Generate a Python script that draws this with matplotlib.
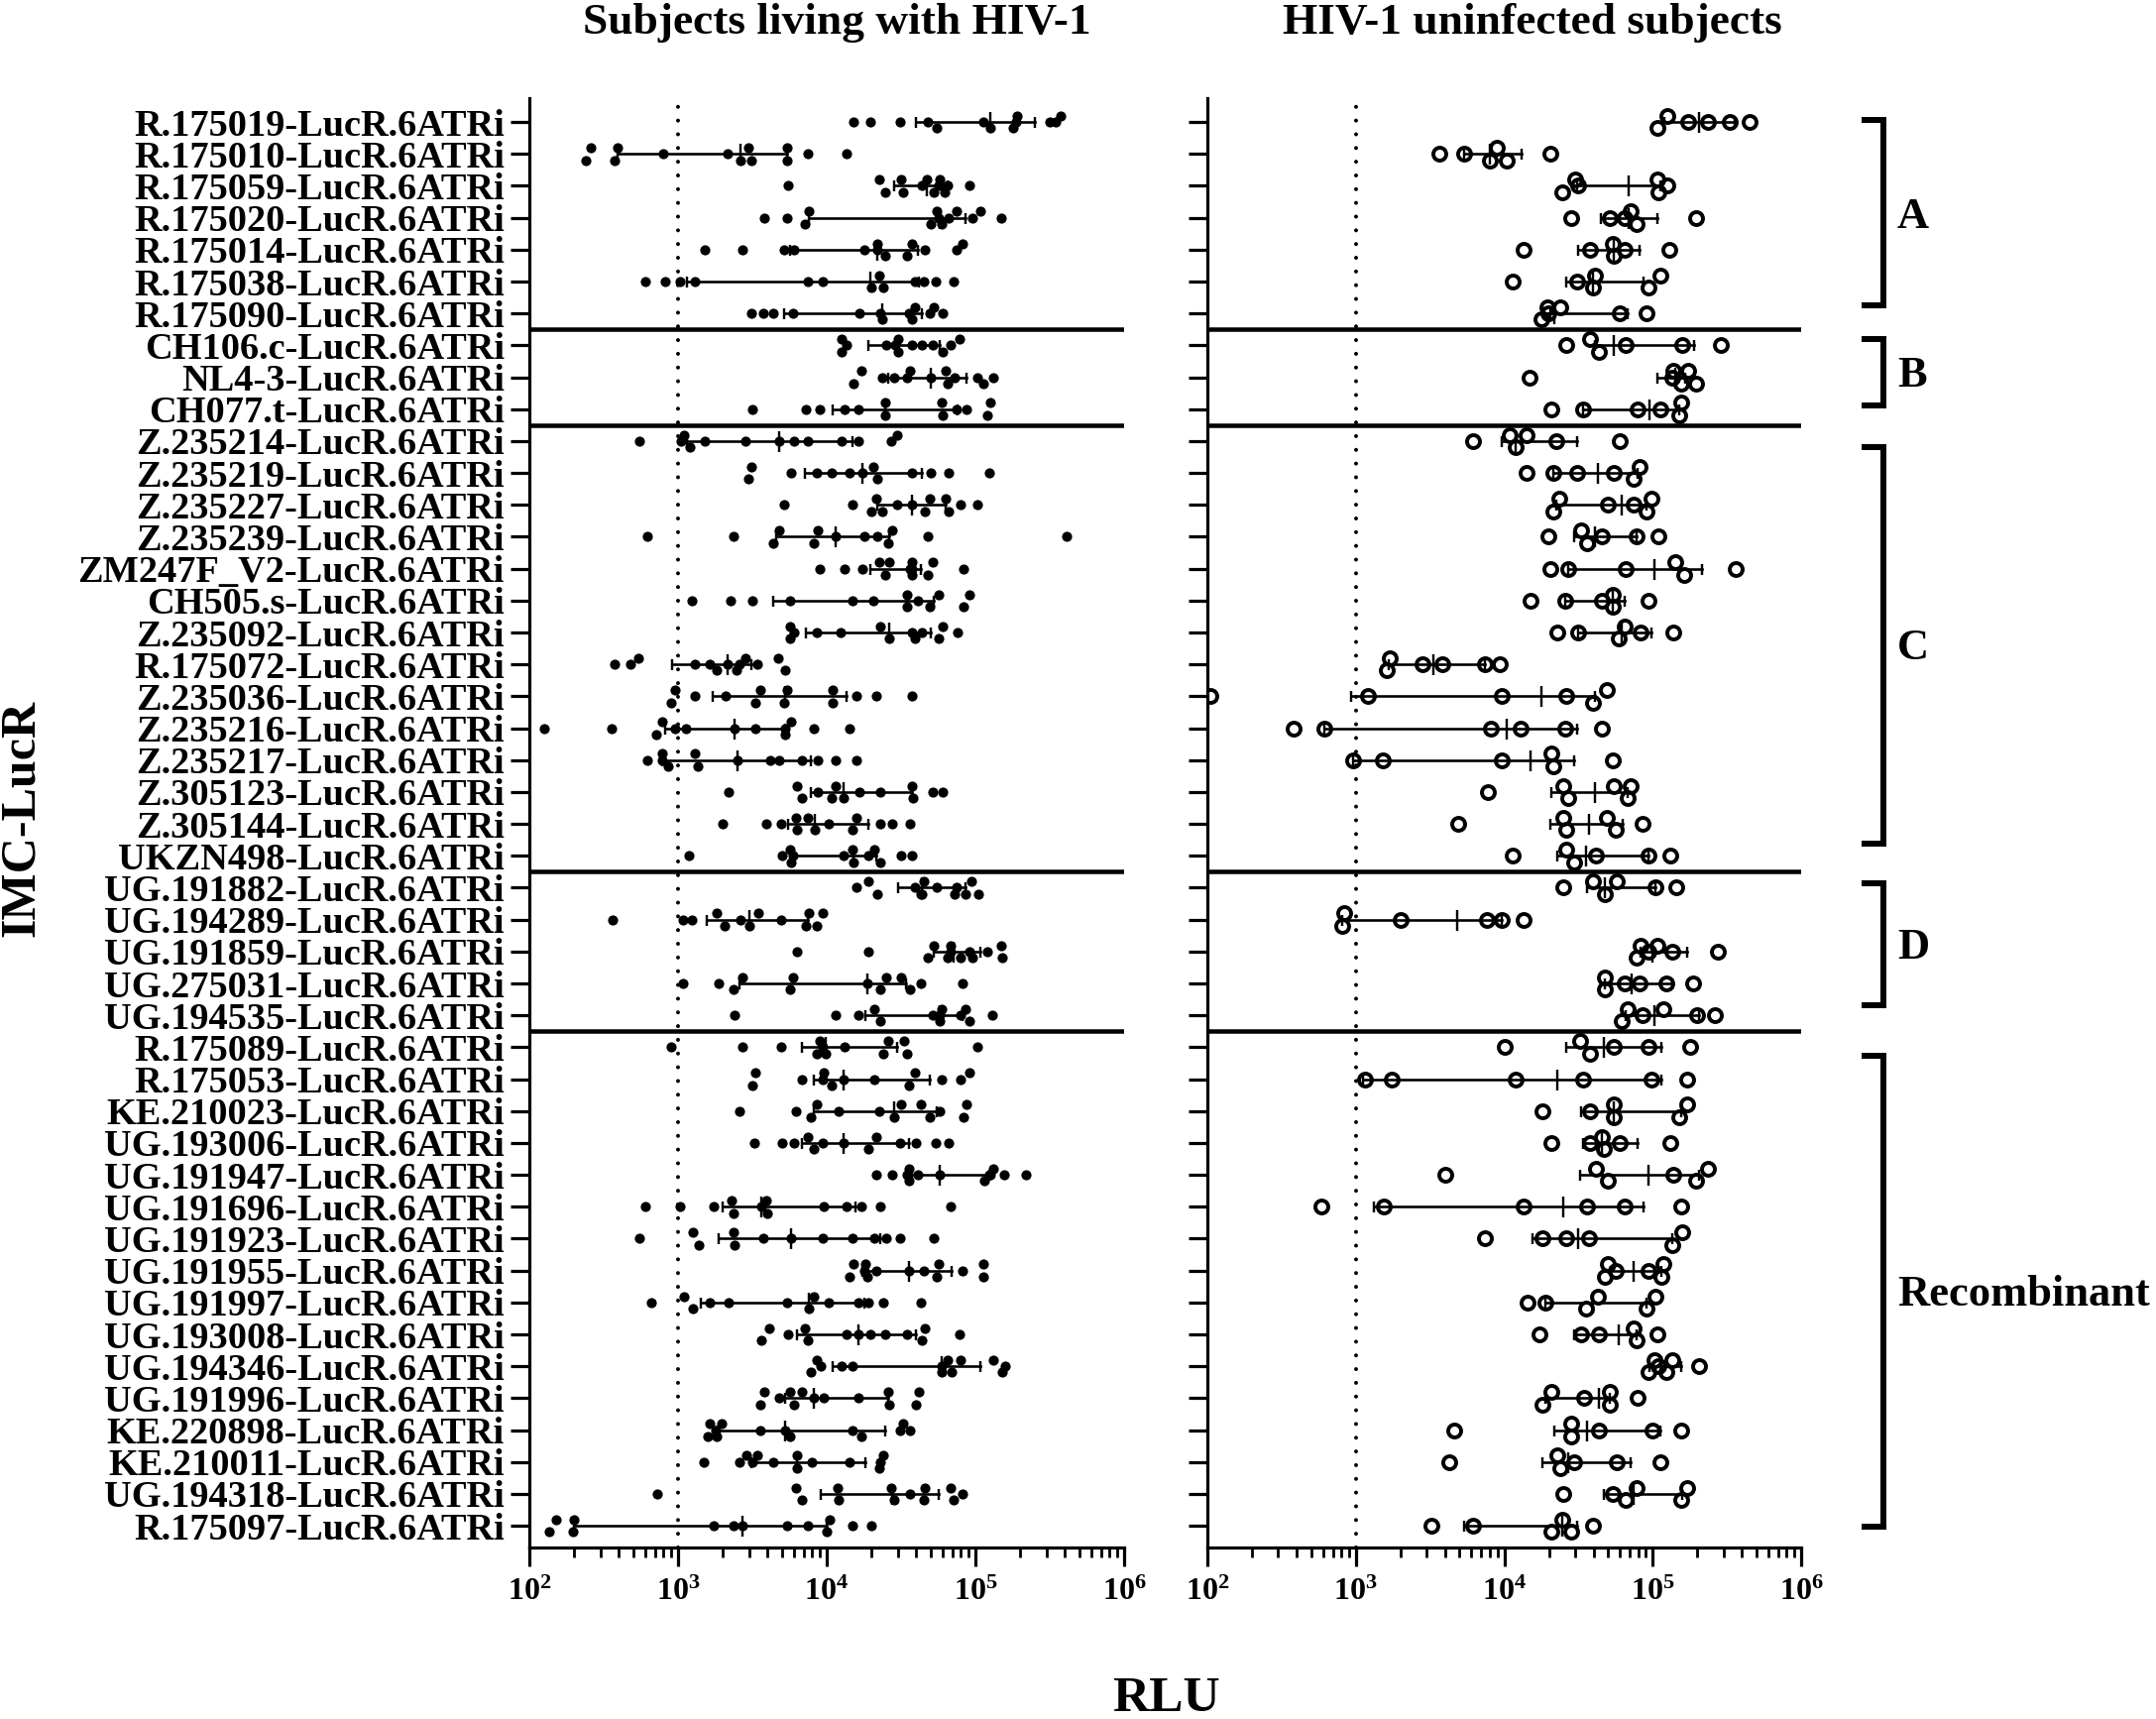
import matplotlib
matplotlib.use("Agg")
import matplotlib.pyplot as plt
from matplotlib.lines import Line2D
from matplotlib.ticker import LogLocator, NullFormatter, FixedFormatter, FixedLocator

plt.rcParams['font.family'] = ['Liberation Serif', 'DejaVu Serif']
plt.rcParams['font.weight'] = 'bold'
plt.rcParams['mathtext.fontset'] = 'custom'
plt.rcParams['mathtext.rm'] = 'Liberation Serif:bold'
plt.rcParams['mathtext.bf'] = 'Liberation Serif:bold'
plt.rcParams['mathtext.default'] = 'bf'

VIRUSES = ["R.175019", "R.175010", "R.175059", "R.175020", "R.175014", "R.175038", "R.175090",
           "CH106.c", "NL4-3", "CH077.t",
           "Z.235214", "Z.235219", "Z.235227", "Z.235239", "ZM247F_V2", "CH505.s", "Z.235092",
           "R.175072", "Z.235036", "Z.235216", "Z.235217", "Z.305123", "Z.305144", "UKZN498",
           "UG.191882", "UG.194289", "UG.191859", "UG.275031", "UG.194535",
           "R.175089", "R.175053", "KE.210023", "UG.193006", "UG.191947", "UG.191696", "UG.191923",
           "UG.191955", "UG.191997", "UG.193008", "UG.194346", "UG.191996", "KE.220898", "KE.210011",
           "UG.194318", "R.175097"]
SUFFIX = "-LucR.6ATRi"
GROUP_BOUNDARIES = [6.5, 9.5, 23.5, 28.5]
LOD = 1000
XTICK_EXPONENTS = [2, 3, 4, 5, 6]

# log10(RLU) per virus, subjects living with HIV-1
HIV_LOG10 = [
 [4.18,4.29,4.49,4.68,4.74,5.05,5.10,5.25,5.27,5.28,5.50,5.54,5.57],
 [2.38,2.41,2.57,2.59,2.90,3.33,3.42,3.47,3.49,3.73,3.73,3.87,4.13],
 [3.74,4.35,4.39,4.50,4.51,4.64,4.67,4.72,4.75,4.76,4.79,4.81,4.96],
 [3.58,3.73,3.85,3.88,4.70,4.74,4.75,4.77,4.82,4.87,4.98,5.03,5.17],
 [3.18,3.43,3.71,3.78,4.25,4.34,4.34,4.39,4.54,4.57,4.66,4.87,4.91],
 [2.78,2.91,3.01,3.11,3.87,3.97,4.30,4.35,4.38,4.59,4.65,4.73,4.85],
 [3.49,3.57,3.64,3.77,4.22,4.36,4.37,4.55,4.57,4.59,4.69,4.72,4.78],
 [4.10,4.13,4.10,4.40,4.46,4.48,4.48,4.57,4.64,4.71,4.78,4.83,4.89],
 [4.18,4.23,4.37,4.45,4.54,4.56,4.70,4.80,4.81,4.86,5.01,5.05,5.12],
 [3.50,3.86,3.95,4.12,4.21,4.39,4.39,4.77,4.78,4.87,4.94,5.10,5.08],
 [2.74,3.02,3.04,3.08,3.18,3.45,3.68,3.78,3.87,4.10,4.21,4.43,4.47],
 [3.49,3.47,3.76,3.93,4.03,4.15,4.24,4.31,4.34,4.57,4.70,4.82,5.09],
 [3.71,4.17,4.33,4.30,4.37,4.47,4.57,4.66,4.69,4.80,4.82,4.90,5.01],
 [2.79,3.37,3.68,3.64,3.94,3.91,4.06,4.25,4.34,4.44,4.41,4.68,5.61],
 [3.95,4.12,4.24,4.35,4.39,4.42,4.56,4.57,4.57,4.68,4.71,4.92,4.57],
 [3.09,3.35,3.50,3.75,4.17,4.31,4.54,4.54,4.61,4.75,4.69,4.96,4.92],
 [3.75,3.78,3.75,3.93,4.09,4.36,4.42,4.57,4.64,4.59,4.75,4.78,4.88],
 [2.57,2.68,2.73,3.11,3.21,3.26,3.33,3.39,3.41,3.45,3.53,3.67,3.72],
 [2.98,2.95,3.11,3.32,3.55,3.52,3.73,3.71,4.04,4.04,4.20,4.33,4.57],
 [2.10,2.55,2.89,2.85,2.98,3.05,3.38,3.52,3.72,3.72,3.76,3.91,4.15],
 [2.79,2.89,2.89,2.93,3.11,3.13,3.40,3.62,3.68,3.83,3.94,4.06,4.20],
 [3.34,3.80,3.83,3.94,4.06,4.03,4.11,4.22,4.36,4.57,4.58,4.71,4.78],
 [3.30,3.59,3.69,3.79,3.80,3.87,3.92,4.01,4.20,4.17,4.36,4.44,4.56],
 [3.07,3.70,3.75,3.77,3.76,4.11,4.17,4.18,4.28,4.32,4.36,4.50,4.57],
 [4.20,4.28,4.34,4.59,4.65,4.64,4.74,4.87,4.86,4.93,4.97,5.02,4.63],
 [2.56,3.03,3.09,3.26,3.31,3.42,3.48,3.54,3.69,3.88,3.86,3.97,3.93],
 [3.80,4.28,4.72,4.68,4.83,4.83,4.81,4.90,4.96,4.98,5.08,5.17,5.18],
 [3.03,3.27,3.43,3.37,3.77,3.75,4.27,4.40,4.36,4.50,4.56,4.63,4.91],
 [3.38,4.06,4.21,4.32,4.36,4.71,4.77,4.76,4.76,4.90,4.93,4.96,5.11],
 [2.95,3.43,3.69,3.93,3.95,3.97,3.99,4.12,4.38,4.41,4.52,4.54,5.01],
 [3.52,3.50,3.83,3.98,3.97,4.03,4.11,4.32,4.59,4.55,4.77,4.90,4.96],
 [3.41,3.79,3.93,3.89,4.08,4.35,4.50,4.45,4.63,4.69,4.76,4.94,4.92],
 [3.51,3.70,3.78,3.87,3.91,3.97,4.11,4.33,4.28,4.49,4.60,4.73,4.82],
 [4.33,4.44,4.54,4.55,4.55,4.61,4.76,5.06,5.09,5.10,5.12,5.19,5.34],
 [2.78,3.01,3.24,3.36,3.37,3.56,3.59,3.60,3.98,4.13,4.23,4.36,4.83],
 [2.74,3.10,3.14,3.37,3.38,3.57,3.76,3.97,4.17,4.32,4.40,4.49,4.72],
 [4.18,4.15,4.26,4.25,4.27,4.33,4.55,4.65,4.75,4.74,4.91,5.05,5.05],
 [2.82,3.04,3.10,3.21,3.34,3.73,3.91,3.88,4.01,4.21,4.28,4.38,4.63],
 [3.61,3.56,3.74,3.85,3.87,4.13,4.21,4.29,4.39,4.54,4.66,4.64,4.89],
 [3.93,3.96,3.89,4.10,4.17,4.77,4.81,4.77,4.84,4.90,5.12,5.20,5.18],
 [3.58,3.55,3.68,3.75,3.78,3.83,3.91,3.98,4.21,4.41,4.42,4.62,4.60],
 [3.21,3.20,3.29,3.25,3.26,3.55,3.72,3.75,4.17,4.23,4.51,4.49,4.56],
 [3.17,3.41,3.46,3.50,3.53,3.64,3.80,3.80,3.90,4.15,4.38,4.36,4.35],
 [2.86,3.79,3.83,4.07,4.08,4.43,4.45,4.56,4.66,4.65,4.83,4.85,4.91],
 [2.13,2.18,2.30,2.29,3.24,3.37,3.43,3.73,3.87,4.02,4.00,4.17,4.30],
]
# swarm side of each point: m centre, u above, d below
HIV_LANES = [
 "mmmmdmddmummu", "dudummdududmm", "mududmudmudmm", "mmdudumdmumum", "mmmmmumddummu",
 "mmmmmmdudmmmm", "mmmmmmdmdumum", "umdmmudmmmdmu", "dummmumudmmdm", "mmmmmududmmud",
 "mmudmmmmmmmmu", "udmmmmmudmmmm", "mmuddmmduudmm", "mmududmmmudmm", "mmmudumuddumm",
 "mmmmmmudmudud", "umdmmudmmddum", "mmummdmdmumud", "udmmudududmmm", "mmudmmmmdmumm",
 "mumdudmmmmmmm", "mudmuddmmudmm", "mmmududmudmmm", "mmumdmudmudmm", "mudmudmmddudd",
 "mmmudmdumudud", "mmudumddmdmud", "mmududmududmm", "mmmudmudmmudm", "mmmdumdmduudm",
 "udmumdmmudmmu", "mmudmmududmud", "mmmudmmudmmmm", "mmmudmmdmmumm", "mmmudmudmmmmm",
 "mududmmmmmmmm", "udumdmmmudmud", "mudmmmudmmmmm", "udmudmmmmmudm", "umdmmmudduumd",
 "udmudummmudud", "udumdmmdmdumm", "mmumumudmmumd", "mudududmududm", "duudmmmmmudmm",
]
HIV_LOW = [4.60,2.59,4.45,3.88,3.75,3.06,3.71,4.28,4.41,4.04,3.06,3.85,4.34,3.66,4.29,3.64,3.86,2.96,3.23,2.91,2.89,
           3.89,3.74,3.76,4.48,3.19,4.72,3.41,4.26,3.83,3.91,3.91,3.83,4.57,3.30,3.27,4.24,3.15,3.80,4.04,3.72,3.26,3.49,3.96,2.30]
HIV_MEDIAN = [5.10,3.42,4.67,4.76,4.34,4.29,4.37,4.48,4.70,4.39,3.68,4.24,4.57,4.06,4.57,4.54,4.42,3.33,3.72,3.38,3.40,
              4.11,3.92,4.18,4.64,3.48,4.85,4.27,4.76,3.99,4.11,4.45,4.11,4.76,3.56,3.76,4.55,3.88,4.21,4.77,3.91,3.72,3.80,4.44,3.43]
HIV_HIGH = [5.40,3.73,4.81,4.93,4.61,4.62,4.64,4.76,4.94,4.88,4.17,4.64,4.80,4.42,4.63,4.72,4.70,3.49,4.13,3.72,3.89,
            4.57,4.28,4.33,4.93,3.87,5.03,4.53,4.91,4.47,4.69,4.74,4.55,5.09,4.19,4.36,4.84,4.25,4.60,5.03,4.41,4.39,4.26,4.75,4.00]

# log10(RLU) per virus, HIV-1 uninfected subjects
UNINF_LOG10 = [
 [5.03,5.10,5.24,5.37,5.52,5.65],[3.56,3.73,3.90,3.95,4.02,4.31],[4.39,4.48,4.50,5.03,5.04,5.10],
 [4.45,4.71,4.81,4.85,4.89,5.29],[4.13,4.58,4.73,4.74,4.81,5.11],[4.06,4.49,4.61,4.60,4.97,5.05],
 [4.25,4.29,4.30,4.38,4.78,4.96],[4.42,4.58,4.64,4.82,5.20,5.46],[4.17,5.14,5.13,5.19,5.24,5.29],
 [4.32,4.53,4.90,5.05,5.19,5.18],[3.79,4.04,4.08,4.15,4.35,4.78],[4.15,4.33,4.49,4.74,4.91,4.87],
 [4.37,4.33,4.70,4.87,4.99,4.96],[4.30,4.52,4.56,4.66,4.89,5.04],[4.31,4.43,4.82,5.15,5.21,5.56],
 [4.18,4.41,4.66,4.73,4.73,4.97],[4.36,4.50,4.77,4.81,4.92,5.14],[3.23,3.21,3.45,3.58,3.87,3.97],
 [2.02,3.08,3.98,4.42,4.60,4.69],[2.58,2.79,3.91,4.11,4.41,4.66],[2.98,3.18,3.98,4.32,4.33,4.73],
 [3.89,4.40,4.43,4.74,4.85,4.83],[3.69,4.40,4.42,4.69,4.75,4.93],[4.06,4.42,4.47,4.62,4.97,5.12],
 [4.40,4.60,4.68,4.76,5.02,5.16],[2.92,2.91,3.30,3.88,3.98,4.13],[4.92,4.89,4.97,5.03,5.13,5.44],
 [4.68,4.68,4.81,4.91,5.09,5.27],[4.79,4.83,4.93,5.07,5.30,5.42],[4.00,4.51,4.58,4.74,4.97,5.25],
 [3.06,3.24,4.08,4.53,4.99,5.23],[4.26,4.58,4.74,4.74,5.23,5.18],[4.32,4.58,4.66,4.67,4.78,5.12],
 [3.60,4.62,4.70,5.14,5.29,5.37],[2.77,3.19,4.13,4.56,4.81,5.19],[3.87,4.26,4.42,4.57,5.13,5.20],
 [4.70,4.68,4.75,4.97,5.07,5.06],[4.16,4.28,4.55,4.63,4.96,5.02],[4.24,4.52,4.64,4.87,4.89,5.03],
 [4.97,5.01,5.04,5.09,5.13,5.31],[4.26,4.32,4.54,4.71,4.71,4.90],[3.66,4.45,4.45,4.64,5.00,5.19],
 [3.63,4.36,4.38,4.47,4.76,5.05],[4.40,4.73,4.82,4.89,5.23,5.19],[3.51,3.79,4.32,4.39,4.45,4.60],
]
UNINF_LANES = [
 "dummmm", "mmdudm", "dumudm", "mmmudm", "mmudmm", "mmuddu", "dumumm", "mudmmm", "mumdud",
 "mmmmud", "mudumm", "mmmmud", "udmmud", "mudmmm", "mmmudm",
 "mmmudm", "mmdumm", "udmmmm", "mmmmdu", "mmmmmm", "mmmudm", "muduud", "mududm", "mudmmm",
 "mudumm", "udmmmm", "udmumm", "udmmmm", "dumumm", "mudmmm",
 "mmmmmm", "mmudud", "mmudmm", "mudmdu", "mmmmmm", "mmmmdu", "udmmud", "mmdudu", "mmmudm",
 "dumdum", "dumudm", "mudmmm", "mudmmm", "mmduud", "mmdudm",
]
UNINF_LOW = [5.08,3.73,4.49,4.65,4.50,4.42,4.31,4.61,5.03,4.53,3.98,4.33,4.35,4.47,4.43,4.41,4.50,3.22,2.97,2.79,2.98,4.32,4.31,4.36,
             4.56,2.91,4.92,4.68,4.82,4.42,3.05,4.52,4.53,4.51,3.12,4.19,4.72,4.28,4.47,4.98,4.28,4.34,4.26,4.67,3.73]
UNINF_MEDIAN = [5.31,3.90,4.84,4.84,4.74,4.60,4.34,4.74,5.15,4.98,4.08,4.63,4.79,4.61,5.01,4.73,4.79,3.52,4.25,4.02,4.18,4.61,4.57,4.55,
                4.68,3.68,5.00,4.86,5.01,4.67,4.36,4.74,4.66,4.97,4.40,4.50,4.87,4.60,4.77,5.06,4.64,4.56,4.43,4.87,4.39]
UNINF_HIGH = [5.55,4.12,5.05,5.03,4.91,4.94,4.83,5.28,5.22,5.18,4.49,4.90,4.96,4.89,5.33,4.81,4.99,3.87,4.61,4.49,4.47,4.83,4.80,4.97,
              5.02,3.98,5.23,5.13,5.31,5.06,5.06,5.19,4.90,5.31,4.94,5.13,5.06,4.96,4.89,5.19,4.71,5.05,4.85,5.20,4.49]

PANEL_TITLES = ["Subjects living with HIV-1", "HIV-1 uninfected subjects"]
BRACKET_LABELS = ["A", "B", "C", "D", "Recombinant"]

W, H = 2175, 1734
PX = 0.72
LANE_OFFSET = 0.195
fig = plt.figure(figsize=(W / 100, H / 100), dpi=100)


def axes_px(x0, x1, top, bottom):
    return fig.add_axes([x0 / W, 1 - bottom / H, (x1 - x0) / W, (bottom - top) / H])


def draw_panel(ax, logs, lanes, low, med, high, filled):
    ax.set_xscale("log")
    ax.set_xlim(1e2, 1e6)
    ax.set_ylim(44.68, -0.75)
    for b in GROUP_BOUNDARIES:
        ax.axhline(b, color="black", lw=4.5 * PX, zorder=2, solid_capstyle="butt")
    ax.axvline(LOD, color="black", lw=4.0 * PX, linestyle=(0, (0.01, 3.45)),
               dash_capstyle="round", zorder=1)
    for i, vals in enumerate(logs):
        ys = [i + {"u": -LANE_OFFSET, "d": LANE_OFFSET, "m": 0}[c] for c in lanes[i]]
        xs = [10 ** v for v in vals]
        ax.plot([10 ** low[i], 10 ** high[i]], [i, i], color="black", lw=2.6 * PX, zorder=3)
        ax.plot([10 ** low[i], 10 ** high[i]], [i, i], ls="none", marker="|", color="black",
                ms=11 * PX, mew=2.4 * PX, zorder=3)
        ax.plot([10 ** med[i]], [i], ls="none", marker="|", color="black", ms=21 * PX,
                mew=2.4 * PX, zorder=3)
        if filled:
            ax.plot(xs, ys, ls="none", marker="o", ms=10.2 * PX, mfc="black", mec="black", mew=0, zorder=4)
        else:
            ax.plot(xs, ys, ls="none", marker="o", ms=13 * PX, mfc="none", mec="black", mew=3.9 * PX, zorder=4)
    for s in ["top", "right"]:
        ax.spines[s].set_visible(False)
    for s in ["left", "bottom"]:
        ax.spines[s].set_linewidth(3.2 * PX)
    ax.yaxis.set_major_locator(FixedLocator(list(range(len(VIRUSES)))))
    ax.tick_params(axis="y", length=19 * PX, width=3.2 * PX, pad=6 * PX)
    ax.xaxis.set_major_locator(FixedLocator([10.0 ** e for e in XTICK_EXPONENTS]))
    ax.xaxis.set_major_formatter(FixedFormatter([r"$\mathbf{10^{%d}}$" % e for e in XTICK_EXPONENTS]))
    ax.xaxis.set_minor_locator(LogLocator(base=10, subs=range(2, 10), numticks=20))
    ax.xaxis.set_minor_formatter(NullFormatter())
    ax.tick_params(axis="x", which="major", length=19 * PX, width=3.2 * PX, pad=12 * PX, labelsize=23)
    ax.tick_params(axis="x", which="minor", length=10 * PX, width=2.8 * PX)


ax1 = axes_px(534, 1134, 99, 1561)
ax2 = axes_px(1218, 1817, 99, 1561)
draw_panel(ax1, HIV_LOG10, HIV_LANES, HIV_LOW, HIV_MEDIAN, HIV_HIGH, True)
draw_panel(ax2, UNINF_LOG10, UNINF_LANES, UNINF_LOW, UNINF_MEDIAN, UNINF_HIGH, False)
ax1.set_yticklabels([v + SUFFIX for v in VIRUSES], fontsize=27.6, fontweight="bold")
ax2.set_yticklabels([])


def ftext(x, y, s, **kw):
    fig.text(x / W, 1 - y / H, s, fontweight="bold", **kw)


ftext(844, 34, PANEL_TITLES[0], fontsize=32.7, ha="center", va="baseline")
ftext(1546, 34, PANEL_TITLES[1], fontsize=32.7, ha="center", va="baseline")
ftext(22, 825, "IMC-LucR", fontsize=36, rotation=90, ha="center", va="center")
ftext(1176, 1726, "RLU", fontsize=37, ha="center", va="baseline")

brackets = [(121, 308), (342, 409), (451, 851), (891, 1014), (1065, 1540)]
label_y = [219, 379, 654, 956, 1306]
for (top, bot), ly, lab in zip(brackets, label_y, BRACKET_LABELS):
    fig.add_artist(Line2D([1878 / W, 1900 / W, 1900 / W, 1878 / W],
                          [1 - top / H, 1 - top / H, 1 - bot / H, 1 - bot / H],
                          color="black", lw=6 * PX, solid_joinstyle="miter", solid_capstyle="butt"))
    ftext(1914, ly, lab, fontsize=32, ha="left", va="center")

fig.savefig("out.png", dpi=100)
